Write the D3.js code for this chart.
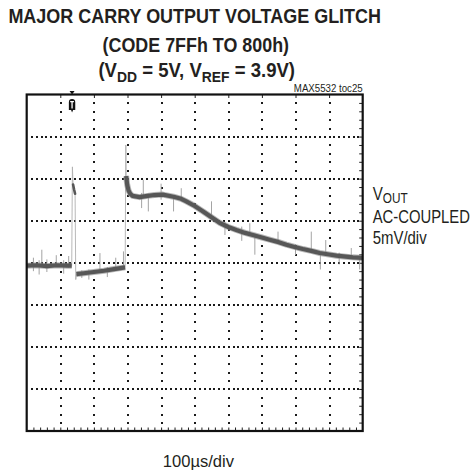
<!DOCTYPE html>
<html><head><meta charset="utf-8">
<script src="https://cdn.jsdelivr.net/npm/d3@7"></script>
<style>html,body{margin:0;padding:0;background:#fff;}svg{display:block;}</style>
</head><body>
<svg id="c" width="472" height="472"></svg>
<script>
// ---- data (time in µs, voltage in mV, AC-coupled, 5mV/div, 100µs/div) ----
const xMajor = [100,200,300,400,500,600,700,800,900];
const yMajor = [-15,-10,-5,0,5,10,15];
const seg1 = [[0,-0.35],[30,-0.3],[60,-0.4],[90,-0.3],[120,-0.35],[134,-0.35]];
const glitch = [[138,9.3],[141,8.7],[144,8.2]];
const seg2 = [[148,-1.35],[170,-1.25],[200,-1.1],[230,-0.95],[260,-0.75],[293,-0.55]];
const seg3 = [[296,10.3],[299,9.3],[303,8.6],[308,8.2],[315,7.95],[336,7.8],[360,7.95],[380,8.05],[405,8.1],[437,7.85],[460,7.6],[475,7.3],[500,6.75],[525,6.1],[550,5.4],[574,4.75],[600,4.25],[624,3.9],[650,3.55],[673,3.3],[700,3.0],[723,2.74],[750,2.45],[773,2.15],[800,1.85],[822,1.63],[850,1.38],[872,1.16],[900,0.98],[922,0.84],[950,0.72],[971,0.64],[1000,0.57]];
const edges = [[[134,-0.35],[136,11.4],[138,9.3]],[[144,8.2],[146,-2.0],[148,-1.35]],[[293,-0.55],[295,14.0],[296,10.3]]];
const spikes = [[20,-1.0,0.6],[37,-1.4,0.3],[45,-0.4,1.55],[60,-1.1,0.4],[88,-0.5,0.9],[110,-1.3,0.3],[125,-0.6,0.8],
  [164,-1.8,-0.9],[185,-2.0,-0.8],[218,-0.9,1.15],[240,-1.7,-0.5],[265,-0.8,0.6],[288,-0.6,1.35],
  [342,6.5,8.3],[347,7.8,9.85],[362,6.1,8.2],[400,7.5,9.4],[437,6.1,8.0],[460,7.3,8.86],[550,5.2,7.3],[590,3.3,4.8],
  [640,2.6,4.3],[664,3.2,4.7],[679,0.96,3.5],[748,2.3,3.7],[800,0.9,2.2],[847,1.2,3.7],[874,-0.8,1.3],[890,1.0,2.7],
  [930,-0.2,1.2],[966,0.5,1.75],[991,-0.8,0.8]];
const triggerTime = 135;
const titleLines = ["MAJOR CARRY OUTPUT VOLTAGE GLITCH","(CODE 7FFh TO 800h)"];
const titleLine3 = [["(V",0],["DD",1],[" = 5V, V",0],["REF",1],[" = 3.9V)",0]];
const rightLabel = [[["V",0],["OUT",1]],[["AC-COUPLED",0]],[["5mV/div",0]]];
const xLabel = "100µs/div";
const noteLabel = "MAX5532 toc25";

// ---- layout ----
const svg = d3.select("#c");
const L=26.7, R=362.7, T=94.5, B=431;
const x = d3.scaleLinear().domain([0,1000]).range([L,R]);
const y = d3.scaleLinear().domain([-20,20]).range([B,T]);
const FONT = "'Liberation Sans', Arial, Helvetica, sans-serif";

// dotted graticule: vertical lines dotted at each 1 mV, horizontal lines dotted 7 per division
const vDots = [], hDots = [];
xMajor.forEach(t=>d3.range(-19,20,1).forEach(v=>vDots.push([t,v])));
yMajor.forEach(v=>d3.range(1,70).forEach(k=>{ if(k%7) hDots.push([k*100/7,v]); }));
xMajor.forEach(t=>yMajor.forEach(v=>hDots.push([t,v])));
const grid = svg.append("g").attr("fill","#1a1a1a").attr("shape-rendering","crispEdges");
grid.selectAll("rect.v").data(vDots.concat(hDots)).join("rect").attr("class","v")
  .attr("x",d=>Math.round(x(d[0])-0.5)).attr("y",d=>Math.round(y(d[1])-0.5))
  .attr("width",1.6).attr("height",1.6);

// minor ticks on frame
const tb = svg.append("g").attr("transform",`translate(0,${B})`)
  .call(d3.axisBottom(x).tickValues(d3.range(20,1000,20)).tickSize(-3.5).tickFormat(""));
tb.select(".domain").remove(); tb.selectAll("line").attr("stroke","#222").attr("stroke-width",1);
const tr = svg.append("g").attr("transform",`translate(${R},0)`)
  .call(d3.axisRight(y).tickValues(d3.range(-19,20,1)).tickSize(-3.5).tickFormat(""));
tr.select(".domain").remove(); tr.selectAll("line").attr("stroke","#222").attr("stroke-width",1);
const tt = svg.append("g").attr("transform",`translate(0,${T})`)
  .call(d3.axisTop(x).tickValues(xMajor).tickSize(-3.5).tickFormat(""));
tt.select(".domain").remove(); tt.selectAll("line").attr("stroke","#222").attr("stroke-width",1);

// trace
const line = d3.line().x(d=>x(d[0])).y(d=>y(d[1]));
const trace = svg.append("g");
trace.selectAll("path.edge").data(edges).join("path").attr("class","edge")
  .attr("d",line).attr("fill","none").attr("stroke","#b0b0b0").attr("stroke-width",0.9);
trace.selectAll("line.spk").data(spikes).join("line").attr("class","spk")
  .attr("x1",d=>x(d[0])).attr("x2",d=>x(d[0])).attr("y1",d=>y(d[1])).attr("y2",d=>y(d[2]))
  .attr("stroke","#9a9a9a").attr("stroke-width",0.9);
[seg1,seg2,seg3].forEach(s=>{
  trace.append("path").attr("d",line(s)).attr("fill","none").attr("stroke","#8a8a8a")
    .attr("stroke-width",6).attr("stroke-linejoin","round").attr("opacity",0.6);
  trace.append("path").attr("d",line(s)).attr("fill","none").attr("stroke","#575757")
    .attr("stroke-width",4.2).attr("stroke-linejoin","round");
});
trace.append("path").attr("d",line(glitch)).attr("fill","none").attr("stroke","#575757")
  .attr("stroke-width",2.6).attr("stroke-linecap","round");

// frame
svg.append("rect").attr("x",L).attr("y",T).attr("width",R-L).attr("height",B-T)
  .attr("fill","none").attr("stroke","#111").attr("stroke-width",2.2);

// trigger marker
const tx = x(triggerTime);
svg.append("path").attr("d",`M${tx-2.5},${T-3.5}L${tx+2.5},${T-3.5}L${tx},${T}Z`).attr("fill","#111");
svg.append("path")
  .attr("d",`M${tx-3.2},${T+8}L${tx-3.2},${T+7.8}Q${tx-3.2},${T+4.5} ${tx},${T+4.5}Q${tx+3.2},${T+4.5} ${tx+3.2},${T+7.8}L${tx+3.2},${T+15.5}L${tx+1},${T+15.5}L${tx},${T+18}L${tx-1},${T+15.5}L${tx-3.2},${T+15.5}Z`)
  .attr("fill","#111");
svg.append("path").attr("d",`M${tx-1.9},${T+7.2}H${tx+1.9}M${tx},${T+7.2}V${T+14}`)
  .attr("stroke","#fff").attr("stroke-width",1.3).attr("fill","none");

// text helper: parts = [[text, isSub]], anchor, position, target width
function label(parts, px, py, width, anchor, size, weight, subSize, subDy){
  const t = svg.append("text").attr("x",0).attr("y",0).attr("text-anchor",anchor)
    .attr("font-family",FONT).attr("font-size",size).attr("font-weight",weight).attr("fill","#231f20");
  let down=false;
  parts.forEach(([s,sub])=>{
    const sp = t.append("tspan").text(s);
    if(sub){ sp.attr("font-size",subSize); if(!down){sp.attr("dy",subDy); down=true;} }
    else if(down){ sp.attr("dy",-subDy); down=false; }
  });
  const w = t.node().getComputedTextLength();
  const s = width? width/w : 1;
  t.attr("transform",`translate(${px},${py}) scale(${s},1)`);
  return t;
}
label([[titleLines[0],0]],194.7,23,373,"middle",20,"bold");
label([[titleLines[1],0]],195.8,52,186.5,"middle",20,"bold");
label(titleLine3,196.7,77,196.7,"middle",20,"bold",15,4.5);
label([[noteLabel,0]],362.7,91.5,69,"end",10,"normal");
label(rightLabel[0],372.7,200,35,"start",18,"normal",14,2.5);
label(rightLabel[1],372.7,222.7,97.3,"start",18,"normal");
label(rightLabel[2],372.7,244,54,"start",18,"normal");
label([[xLabel,0]],198.4,466.7,71.3,"middle",17,"normal");
</script>
</body></html>
